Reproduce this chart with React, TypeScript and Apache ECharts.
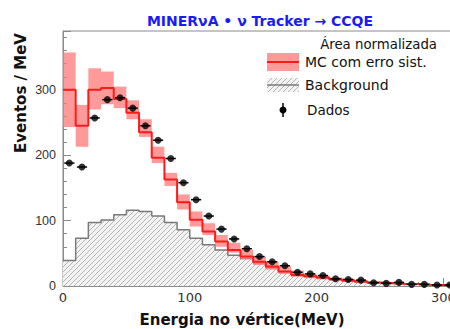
import React, { useEffect, useRef } from 'react';
import * as echarts from 'echarts';

// Bin centres (MeV), bins are 10 MeV wide
const energyCenters = [5, 15, 25, 35, 45, 55, 65, 75, 85, 95, 105, 115, 125, 135, 145, 155, 165, 175, 185, 195, 205, 215, 225, 235, 245, 255, 265, 275, 285, 295, 305];
const binHalfWidth = 5;
// Data points (Eventos / MeV)
const dataValues = [188, 182, 257, 285, 288, 272, 245, 223, 195, 158, 132, 107, 87, 72, 57, 45, 37, 31, 21, 18.5, 16, 11, 10, 9, 5, 4, 5.5, 2.5, 2.5, 1.5, 1.5];
// MC central value
const mcValues = [300, 245, 300, 303, 286, 265, 235, 196, 163, 128, 101.5, 83.5, 68, 55, 45, 37, 30, 22, 17, 15, 13, 10.5, 8.5, 7, 5.5, 4.5, 3.5, 3, 2, 1.5, 1];
// MC systematic band
const mcLow = [243, 213, 270, 278, 272, 255, 228, 188, 153, 117, 91, 78, 60, 51, 41, 32, 25, 18.5, 14, 12, 10, 8, 6.5, 5, 4, 3, 2.5, 2, 1.3, 1, 0.6];
const mcHigh = [357, 277, 333, 328, 305, 284, 255, 213, 173, 140, 114, 96, 78, 66, 55, 45, 37, 30, 23.5, 19, 16, 13, 11, 9, 7, 6, 4.5, 4, 2.8, 2, 1.4];
// Background
const bkgValues = [39, 73, 97, 101, 109, 116, 114, 107, 97, 86, 73, 63, 55, 47, 42, 35, 28, 22, 18.5, 15, 13, 10, 8, 6.5, 5, 4, 3, 2.5, 2, 1.5, 1];
const xTickLabels = [0, 100, 200, 300];
const yTickLabels = [0, 100, 200, 300];

function makeHatch(): HTMLCanvasElement {
  const c = document.createElement('canvas');
  c.width = 5;
  c.height = 5;
  const ctx = c.getContext('2d')!;
  ctx.fillStyle = '#f3f3f3';
  ctx.fillRect(0, 0, 5, 5);
  ctx.strokeStyle = '#b4b4b4';
  ctx.lineWidth = 1;
  ctx.beginPath();
  ctx.moveTo(0, 5);
  ctx.lineTo(5, 0);
  ctx.moveTo(-1, 1);
  ctx.lineTo(1, -1);
  ctx.moveTo(4, 6);
  ctx.lineTo(6, 4);
  ctx.stroke();
  return c;
}

function stepPoints(vals: number[]): number[][] {
  const pts = energyCenters.map((c, i) => [c - binHalfWidth, vals[i]]);
  const last = energyCenters.length - 1;
  pts.push([energyCenters[last] + binHalfWidth, vals[last]]);
  return pts;
}

export default function App() {
  const ref = useRef<HTMLDivElement>(null);
  useEffect(() => {
    if (!ref.current) return;
    const chart = echarts.init(ref.current, undefined, { renderer: 'svg' });
    const hatch = makeHatch();
    const hatchColor: any = { image: hatch, repeat: 'repeat' };
    const pink = 'rgba(255,120,120,0.75)';
    const bandData = energyCenters.map((c, i) => [c - binHalfWidth, c + binHalfWidth, mcLow[i], mcHigh[i]]);
    const ptData = energyCenters.map((c, i) => [c, dataValues[i]]);

    const option: any = {
      animation: false,
      grid: { left: 63, top: 31, right: 24, bottom: 43, show: true, borderColor: '#8a8a8a', borderWidth: 1, backgroundColor: 'transparent' },
      xAxis: {
        type: 'value', min: 0, max: 310, interval: 100,
        axisLine: { show: true, lineStyle: { color: '#8a8a8a' } },
        axisTick: { show: true, inside: true, length: 8, lineStyle: { color: '#8a8a8a' } },
        minorTick: { show: true, splitNumber: 5, length: 4, lineStyle: { color: '#8a8a8a' } },
        splitLine: { show: false },
        axisLabel: {
          margin: 5, color: '#333', fontSize: 13, fontFamily: 'DejaVu Sans',
          formatter: (v: number) => (xTickLabels.includes(v) ? String(v) : ''),
        },
      },
      yAxis: {
        type: 'value', min: 0, max: 390, interval: 100,
        axisLine: { show: true, lineStyle: { color: '#8a8a8a' } },
        axisTick: { show: true, inside: true, length: 8, lineStyle: { color: '#8a8a8a' } },
        minorTick: { show: true, splitNumber: 5, length: 4, lineStyle: { color: '#8a8a8a' } },
        splitLine: { show: false },
        axisLabel: {
          margin: 7, color: '#333', fontSize: 12.5, fontFamily: 'Liberation Sans',
          formatter: (v: number) => (yTickLabels.includes(v) ? String(v) : ''),
        },
      },
      series: [
        {
          type: 'line', name: 'Background', step: 'end', symbol: 'none',
          data: stepPoints(bkgValues),
          lineStyle: { color: '#7a7a7a', width: 1.5 },
          areaStyle: { color: hatchColor, opacity: 1 },
          z: 1,
        },
        {
          type: 'custom', name: 'MC band',
          data: bandData,
          renderItem: (params: any, api: any) => {
            const p0 = api.coord([api.value(0), api.value(3)]);
            const p1 = api.coord([api.value(1), api.value(2)]);
            return {
              type: 'rect',
              shape: { x: p0[0], y: p0[1], width: p1[0] - p0[0], height: p1[1] - p0[1] },
              style: { fill: pink },
            };
          },
          z: 2,
        },
        {
          type: 'line', name: 'MC com erro sist.', step: 'end', symbol: 'none',
          data: stepPoints(mcValues),
          lineStyle: { color: '#ff1a1a', width: 2 },
          z: 3,
        },
        {
          type: 'custom', name: 'Dados err',
          data: ptData,
          renderItem: (params: any, api: any) => {
            const x = api.value(0);
            const y = api.value(1);
            const a = api.coord([x - 4, y]);
            const b = api.coord([x + 4, y]);
            return {
              type: 'line',
              shape: { x1: a[0], y1: a[1], x2: b[0], y2: b[1] },
              style: { stroke: '#000', lineWidth: 1.5 },
            };
          },
          z: 4,
        },
        {
          type: 'scatter', name: 'Dados', data: ptData,
          symbol: 'circle', symbolSize: 7,
          itemStyle: { color: '#000' },
          z: 5,
        },
      ],
      graphic: [
        {
          type: 'text', x: 260, y: 21,
          style: { text: 'MINERνA • ν Tracker → CCQE', fill: '#1a1aff', font: 'bold 14px "DejaVu Sans"', textAlign: 'center', textVerticalAlign: 'middle' },
          silent: true,
        },
        {
          type: 'text', x: 21, y: 93, rotation: Math.PI / 2,
          style: { text: 'Eventos / MeV', fill: '#111', font: 'bold 15px "DejaVu Sans"', textAlign: 'center', textVerticalAlign: 'middle' },
        },
        {
          type: 'text', x: 242, y: 320,
          style: { text: 'Energia no vértice(MeV)', fill: '#111', font: 'bold 15px "DejaVu Sans"', textAlign: 'center', textVerticalAlign: 'middle' },
        },
        {
          type: 'text', x: 437, y: 44,
          style: { text: 'Área normalizada', fill: '#111', font: '13.3px "DejaVu Sans"', textAlign: 'right', textVerticalAlign: 'middle' },
        },
        { type: 'rect', shape: { x: 267, y: 53, width: 32, height: 18 }, style: { fill: pink } },
        { type: 'line', shape: { x1: 267, y1: 62, x2: 299, y2: 62 }, style: { stroke: '#ff1a1a', lineWidth: 2 } },
        {
          type: 'text', x: 305, y: 62,
          style: { text: 'MC com erro sist.', fill: '#111', font: '14px "DejaVu Sans"', textVerticalAlign: 'middle' },
        },
        { type: 'rect', shape: { x: 267, y: 78, width: 32, height: 14 }, style: { fill: hatchColor } },
        { type: 'line', shape: { x1: 267, y1: 85, x2: 299, y2: 85 }, style: { stroke: '#7a7a7a', lineWidth: 1.5 } },
        {
          type: 'text', x: 305, y: 85,
          style: { text: 'Background', fill: '#111', font: '14px "DejaVu Sans"', textVerticalAlign: 'middle' },
        },
        { type: 'line', shape: { x1: 283, y1: 103, x2: 283, y2: 117 }, style: { stroke: '#000', lineWidth: 1.5 } },
        { type: 'circle', shape: { cx: 283, cy: 110, r: 3.5 }, style: { fill: '#000' } },
        {
          type: 'text', x: 307, y: 110,
          style: { text: 'Dados', fill: '#111', font: '13.5px "DejaVu Sans"', textVerticalAlign: 'middle' },
        },
      ],
    };
    chart.setOption(option);
    return () => chart.dispose();
  }, []);
  return (
    <div style={{ position: 'absolute', left: 0, top: 0, width: 450, height: 329, overflow: 'hidden', background: '#fff' }}>
      <div ref={ref} style={{ position: 'absolute', left: 0, top: 0, width: 480, height: 329 }} />
    </div>
  );
}
